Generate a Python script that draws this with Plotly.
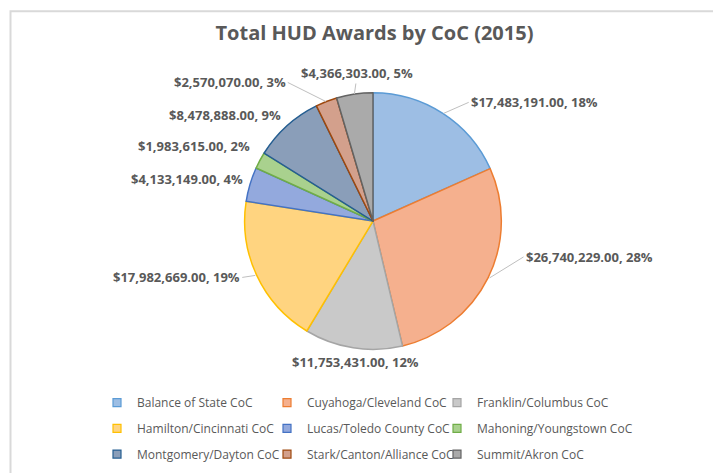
import numpy as np
import plotly.graph_objects as go

# CoC award totals, 2015
coc_names = [
    "Balance of State CoC",
    "Cuyahoga/Cleveland CoC",
    "Franklin/Columbus CoC",
    "Hamilton/Cincinnati CoC",
    "Lucas/Toledo County CoC",
    "Mahoning/Youngstown CoC",
    "Montgomery/Dayton CoC",
    "Stark/Canton/Alliance CoC",
    "Summit/Akron CoC",
]
award_totals = [
    17483191.00,
    26740229.00,
    11753431.00,
    17982669.00,
    4133149.00,
    1983615.00,
    8478888.00,
    2570070.00,
    4366303.00,
]
fill_colors = [
    "#9DBEE4", "#F5B08E", "#C9C9C9", "#FFD480", "#93A9DD",
    "#A9D18E", "#8A9EB9", "#D3A08C", "#AAAAAA",
]
edge_colors = [
    "#5B9BD5", "#ED7D31", "#A5A5A5", "#FFC000", "#4472C4",
    "#70AD47", "#255E91", "#9E480E", "#636363",
]

# label placement, Excel-style: offset (px) from the slice edge, text anchor, leader line
label_dx = [25, 34, 3, -13, -3, -6, -3, -38, 3]
label_dy = [-11, -21, 14, 2, -5, -14, -11, -19, -21]
label_anchor = ["left", "left", "center", "right", "right", "right", "right", "right", "center"]
label_leader = [True, True, False, True, False, False, False, True, True]

FONT = "Open Sans"
W, H = 721, 473
M = dict(l=60, r=100, t=60, b=20)
plot_w = W - M["l"] - M["r"]
plot_h = H - M["t"] - M["b"]

# pie geometry in pixels
cx, cy, rad = 365, 215, 130


def px_x(px):
    return (px - M["l"]) / plot_w


def px_y(py):
    return (H - M["b"] - py) / plot_h


fig = go.Figure()
fig.add_trace(
    go.Pie(
        labels=coc_names,
        values=award_totals,
        sort=False,
        direction="clockwise",
        rotation=0,
        marker=dict(colors=fill_colors, line=dict(color=edge_colors, width=1.5)),
        textinfo="none",
        showlegend=False,
        domain=dict(x=[px_x(cx - rad), px_x(cx + rad)], y=[px_y(cy + rad), px_y(cy - rad)]),
        hovertemplate="%{label}<br>%{value:$,.2f} (%{percent})<extra></extra>",
    )
)

# data labels with leader lines at each slice's mid angle
vals = np.array(award_totals)
share = vals / vals.sum()
mid = (np.cumsum(share) - share / 2) * 2 * np.pi
for i, v in enumerate(award_totals):
    tx = cx + rad * np.sin(mid[i])
    ty = cy - rad * np.cos(mid[i])
    txt = f"${v:,.2f}, {share[i]:.0%}"
    common = dict(
        xref="paper", yref="paper", x=px_x(tx), y=px_y(ty),
        text=txt, xanchor=label_anchor[i], yanchor="middle",
        font=dict(family=FONT, size=13, color="#595959", weight="bold"),
    )
    if label_leader[i]:
        fig.add_annotation(
            **common, showarrow=True, arrowhead=0, arrowwidth=1,
            arrowcolor="#BFBFBF", ax=label_dx[i], ay=label_dy[i],
        )
    else:
        fig.add_annotation(**common, showarrow=False, xshift=label_dx[i], yshift=-label_dy[i])

# legend: 3 x 3 grid, one legend box per entry
legends = {}
for i, name in enumerate(coc_names):
    key = "legend" if i == 0 else f"legend{i + 1}"
    row, col = divmod(i, 3)
    fig.add_trace(
        go.Scatter(
            x=[None], y=[None], mode="markers", name=name, legend=key,
            marker=dict(symbol="square", size=8, color=fill_colors[i],
                        line=dict(color=edge_colors[i], width=1.2)),
        )
    )
    legends[key] = dict(
        x=px_x(89 + 170 * col), xanchor="left",
        y=px_y(399 + 26 * row), yanchor="middle",
        font=dict(family=FONT, size=12, color="#595959"),
        bgcolor="rgba(0,0,0,0)",
    )

# light chart-area frame (top and left edges)
fig.add_shape(
    type="rect", xref="paper", yref="paper",
    x0=px_x(2.5), x1=px_x(W + 50), y0=px_y(H + 50), y1=px_y(2.5),
    line=dict(color="#D9D9D9", width=2), layer="below",
)

fig.update_layout(
    width=W,
    height=H,
    margin=M,
    paper_bgcolor="white",
    plot_bgcolor="white",
    font=dict(family=FONT, color="#595959"),
    xaxis=dict(visible=False),
    yaxis=dict(visible=False),
    title=dict(
        text="Total HUD Awards by CoC (2015)",
        x=px_x(366.5), xref="paper", xanchor="center",
        y=1 - 25 / H, yref="container", yanchor="middle",
        font=dict(family=FONT, size=20, color="#595959", weight="bold"),
    ),
    **legends,
)

fig.write_html("out.html")
